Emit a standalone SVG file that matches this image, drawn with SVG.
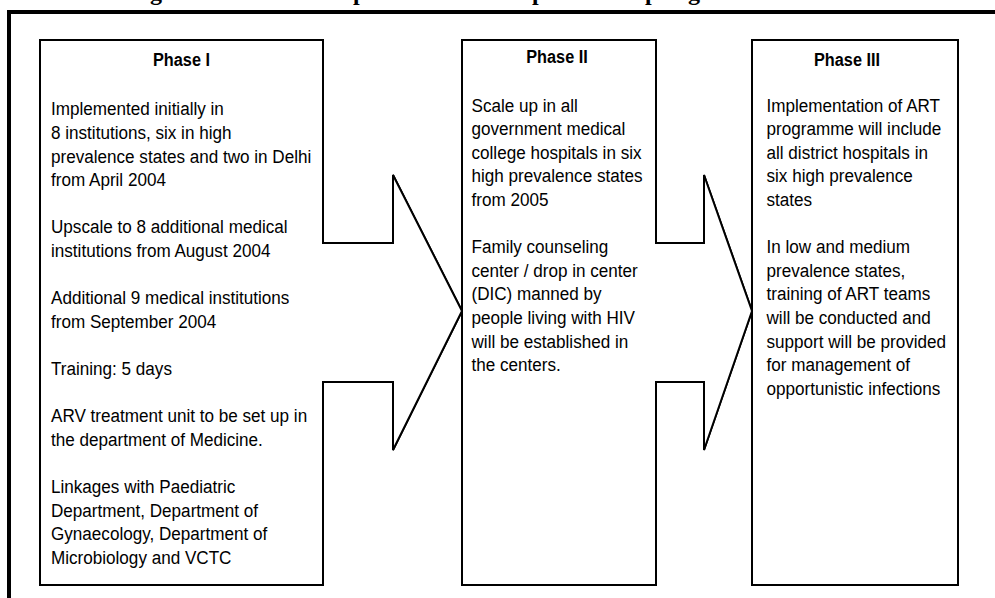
<svg xmlns="http://www.w3.org/2000/svg" width="995" height="598" viewBox="0 0 995 598">
<style>
.box{fill:#fff;stroke:#000;stroke-width:2;stroke-linejoin:miter}
.frame{fill:none;stroke:#000;stroke-width:4}
.body{font-family:"Liberation Sans",Arial,sans-serif;font-size:19px;fill:#000}
.head{font-family:"Liberation Sans",Arial,sans-serif;font-size:18.5px;font-weight:bold;fill:#000;text-anchor:middle}
.title{font-family:"Liberation Serif","Times New Roman",serif;font-size:24px;font-weight:bold;fill:#000}
</style>
<rect width="995" height="598" fill="#fff"/>
<g id="title">
<text class="title" x="150" y="0">g</text>
<text class="title" x="353" y="0">p</text>
<text class="title" x="532" y="0">p</text>
<text class="title" x="645" y="0">p</text>
<text class="title" x="688" y="0">g</text>
</g>
<path class="frame" d="M9,598 V12 H995"/>
<g id="connectors">
<path class="box" d="M323,243 H393 V175 L462,311 L393,450 V382 H323"/>
<path class="box" d="M656,243 H704 V175 L752,311 L704,450 V382 H656"/>
</g>
<g id="phase1">
<path class="box" d="M40,40 H323 V243 H393 V175 L462,311 L393,450 V382 H323 V585 H40 Z"/>
<g transform="translate(181.5 0) scale(0.88 1)"><text class="head" x="0" y="66.5">Phase I</text></g>
<g transform="translate(51 0) scale(0.9 1)">
<text class="body">
<tspan x="0" y="115.5">Implemented initially in</tspan>
<tspan x="0" y="139.1">8 institutions, six in high</tspan>
<tspan x="0" y="162.7">prevalence states and two in Delhi</tspan>
<tspan x="0" y="186.3">from April 2004</tspan>
<tspan x="0" y="233.5">Upscale to 8 additional medical</tspan>
<tspan x="0" y="257.1">institutions from August 2004</tspan>
<tspan x="0" y="304.3">Additional 9 medical institutions</tspan>
<tspan x="0" y="327.9">from September 2004</tspan>
<tspan x="0" y="375.1">Training: 5 days</tspan>
<tspan x="0" y="422.3">ARV treatment unit to be set up in</tspan>
<tspan x="0" y="445.9">the department of Medicine.</tspan>
<tspan x="0" y="493.1">Linkages with Paediatric</tspan>
<tspan x="0" y="516.7">Department, Department of</tspan>
<tspan x="0" y="540.3">Gynaecology, Department of</tspan>
<tspan x="0" y="563.9">Microbiology and VCTC</tspan>
</text>
</g>
</g>
<g id="phase2">
<path class="box" d="M462,40 H656 V243 H704 V175 L752,311 L704,450 V382 H656 V585 H462 Z"/>
<g transform="translate(557 0) scale(0.88 1)"><text class="head" x="0" y="63.5">Phase II</text></g>
<g transform="translate(471.5 0) scale(0.9 1)">
<text class="body">
<tspan x="0" y="111.7">Scale up in all</tspan>
<tspan x="0" y="135.3">government medical</tspan>
<tspan x="0" y="158.9">college hospitals in six</tspan>
<tspan x="0" y="182.5">high prevalence states</tspan>
<tspan x="0" y="206.1">from 2005</tspan>
<tspan x="0" y="253.3">Family counseling</tspan>
<tspan x="0" y="276.9">center / drop in center</tspan>
<tspan x="0" y="300.5">(DIC) manned by</tspan>
<tspan x="0" y="324.1">people living with HIV</tspan>
<tspan x="0" y="347.7">will be established in</tspan>
<tspan x="0" y="371.3">the centers.</tspan>
</text>
</g>
</g>
<g id="phase3">
<rect class="box" x="752" y="40" width="206" height="545"/>
<g transform="translate(847 0) scale(0.88 1)"><text class="head" x="0" y="66.5">Phase III</text></g>
<g transform="translate(766.5 0) scale(0.9 1)">
<text class="body">
<tspan x="0" y="111.7">Implementation of ART</tspan>
<tspan x="0" y="135.3">programme will include</tspan>
<tspan x="0" y="158.9">all district hospitals in</tspan>
<tspan x="0" y="182.5">six high prevalence</tspan>
<tspan x="0" y="206.1">states</tspan>
<tspan x="0" y="253.3">In low and medium</tspan>
<tspan x="0" y="276.9">prevalence states,</tspan>
<tspan x="0" y="300.5">training of ART teams</tspan>
<tspan x="0" y="324.1">will be conducted and</tspan>
<tspan x="0" y="347.7">support will be provided</tspan>
<tspan x="0" y="371.3">for management of</tspan>
<tspan x="0" y="394.9">opportunistic infections</tspan>
</text>
</g>
</g>
</svg>
